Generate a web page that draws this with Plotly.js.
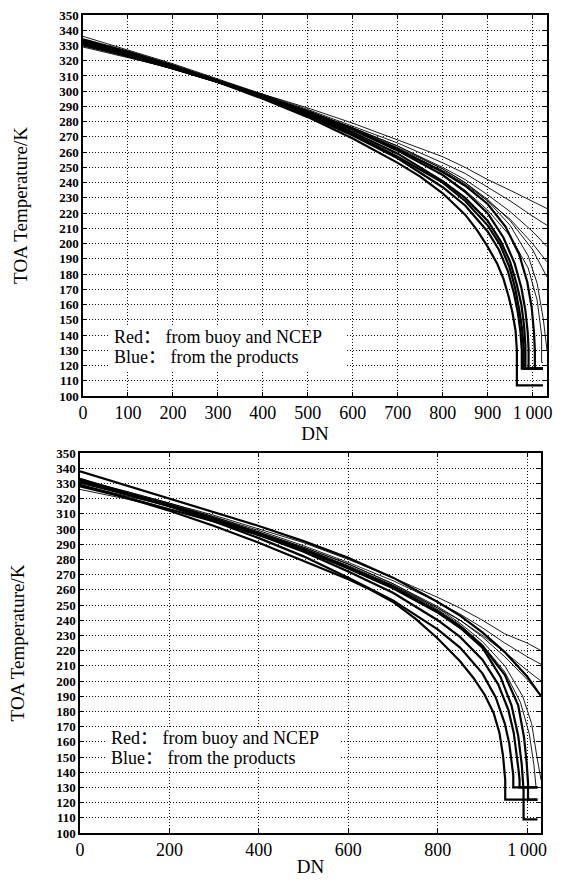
<!DOCTYPE html>
<html>
<head>
<meta charset="utf-8">
<script src="https://cdn.plot.ly/plotly-3.0.1.min.js"></script>
<style>html,body{margin:0;padding:0;background:#fff;}#chart{width:563px;height:881px;}</style>
</head>
<body>
<div id="chart"></div>
<script>
// ---------- data ----------
const yTickVals = [100,110,120,130,140,150,160,170,180,190,200,210,220,230,240,250,260,270,280,290,300,310,320,330,340,350];
const topXTickVals = [0,100,200,300,400,500,600,700,800,900,1000];
const topXTickText = ['0','100','200','300','400','500','600','700','800','900','1\u2009000'];
const botXTickVals = [0,200,400,600,800,1000];
const botXTickText = ['0','200','400','600','800','1\u2009000'];

// upper panel, heavy curves
const topThickDN = [
  [0,100,200,300,400,500,600,700,750,800,850,876,900,921,935,947,955,962,965,965,1023],
  [0,100,200,300,400,500,600,700,800,850,900,925,945,958,967,973,976,976,1023],
  [0,100,200,300,400,500,600,700,800,850,900,930,950,965,975,981,984,984,1023],
  [0,100,200,300,400,500,600,700,800,850,900,935,960,975,984,989,991,991,1023],
  [0,100,200,300,400,500,600,700,800,850,900,940,970,988,998,1003,1005,1005,1023],
  [0,100,200,300,400,500,600,700,800,850,900,928,948,961,970,977,980,980,1023]
];
const topThickT = [
  [331,323,315,306,295,283,269,253,244,233,219,209,198,187,177,165,155,143,130,107,107],
  [333,325,316,306,296,284,271,256,237,225,208,196,182,168,155,142,130,118,118],
  [332,324,316,307,297,286,273,259,241,230,215,201,188,173,160,146,133,118,118],
  [330,323,315,306,297,287,275,261,245,234,220,204,187,171,156,142,131,118,118],
  [334,326,317,307,297,286,275,262,247,238,226,211,193,175,158,142,130,118,118],
  [331,324,315,306,296,285,272,257,240,228,212,199,185,171,157,143,131,118,118]
];
// upper panel, light curves
const topThinDN = [
  [0,100,200,300,400,500,600,700,800,850,900,950,1000,1032],
  [0,100,200,300,400,500,600,700,800,850,900,950,1000,1032],
  [0,100,200,300,400,500,600,700,800,850,900,950,1000,1032],
  [0,100,200,300,400,500,600,700,800,850,900,950,1000,1032],
  [0,100,200,300,400,500,600,700,800,850,900,950,1000,1032],
  [0,100,200,300,400,500,600,700,800,850,900,950,990,1010,1020,1020,1023],
  [0,100,200,300,400,500,600,700,800,850,900,950,990,1010,1024,1032]
];
const topThinT = [
  [329,322,315,307,298,289,279,268,257,250,242,235,228,223],
  [336,327,318,308,298,288,277,266,253,246,237,228,218,212],
  [332,324,316,307,297,287,276,264,250,242,232,221,208,198],
  [333,325,317,307,297,286,275,262,248,239,228,216,200,188],
  [330,323,315,306,297,287,276,263,249,240,229,215,196,178],
  [331,324,316,307,297,286,274,261,245,235,222,205,184,163,140,122,122],
  [332,325,316,307,297,287,276,264,249,240,228,212,192,174,150,130]
];

// lower panel, heavy curves
const botThickDN = [
  [0,100,200,300,400,500,600,650,700,750,800,850,880,905,925,938,946,951,951,1023],
  [0,100,200,300,400,500,600,700,800,850,900,930,950,960,966,969,969,1023],
  [0,100,200,300,400,500,600,700,800,850,900,935,958,970,977,981,983,983,1023],
  [0,100,200,300,400,500,600,700,800,850,900,940,965,980,988,992,992,1023],
  [0,100,200,300,400,500,600,700,800,850,900,950,1000,1031],
  [0,100,200,300,400,500,600,700,800,850,900,950,980,993,999,1002,1002,1023]
];
const botThickT = [
  [329,321,312,302,291,279,267,260,252,241,228,213,202,191,179,166,151,135,122,122],
  [333,324,315,305,294,282,268,253,234,222,205,189,172,159,147,138,130,130],
  [331,323,315,306,296,285,272,258,240,229,214,198,181,166,152,141,135,130,130],
  [328,321,313,305,296,286,274,261,245,235,222,203,184,164,145,128,109,109],
  [338,329,320,311,302,292,281,268,252,243,232,219,203,190],
  [332,324,316,307,297,287,275,262,246,236,223,204,184,163,146,133,122,122]
];
// lower panel, light curves
const botThinDN = [
  [0,100,200,300,400,500,600,700,800,850,900,950,1000,1031],
  [0,100,200,300,400,500,600,700,800,850,900,950,1000,1031],
  [0,100,200,300,400,500,600,700,800,850,900,950,1000,1031],
  [0,100,200,300,400,500,600,700,800,850,900,950,1000,1031],
  [0,100,200,300,400,500,600,700,800,850,900,950,990,1010,1022,1031],
  [0,100,200,300,400,500,600,700,800,850,900,950,985,1005,1015,1020,1020,1023]
];
const botThinT = [
  [332,325,317,309,300,291,280,268,255,248,240,231,225,220],
  [330,323,316,308,299,289,278,266,252,244,235,225,216,211],
  [326,320,313,305,296,286,275,263,248,240,230,219,207,200],
  [331,324,316,307,298,288,277,264,249,240,229,216,201,190],
  [333,325,317,308,298,288,277,264,248,238,226,210,190,172,150,135],
  [329,322,315,306,297,287,276,263,247,237,224,206,186,165,145,130,130,130]
];

const legendLine1 = 'Red\uFF1A\u00a0from buoy and NCEP';
const legendLine2 = 'Blue\uFF1A\u00a0from the products';

// ---------- layout geometry ----------
const W = 563, H = 881;
const TOP = {l:83, r:547, t:15, b:396};
const BOT = {l:80, r:541, t:453, b:833};
const serif = 'Liberation Serif, Noto Sans CJK SC, serif';

function traces(dnList, tList, width, xa, ya) {
  return dnList.map((dn, i) => ({
    type: 'scatter', mode: 'lines', x: dn, y: tList[i],
    xaxis: xa, yaxis: ya, hoverinfo: 'skip', showlegend: false,
    line: {color: '#000', width: width, shape: 'linear'}
  }));
}

const data = [].concat(
  traces(topThinDN, topThinT, 0.9, 'x', 'y'),
  traces(topThickDN, topThickT, 2.2, 'x', 'y'),
  traces(botThinDN, botThinT, 0.9, 'x2', 'y2'),
  traces(botThickDN, botThickT, 2.2, 'x2', 'y2')
);

function xAxis(box, range, vals, text, anchor) {
  return {
    domain: [box.l / W, box.r / W], range: range, anchor: anchor,
    tickmode: 'array', tickvals: vals, ticktext: text,
    ticks: 'inside', ticklen: 4, tickwidth: 1, tickcolor: '#000',
    showline: true, linecolor: '#000', linewidth: 1.6, mirror: 'ticks',
    showgrid: true, gridcolor: '#111', gridwidth: 1, griddash: '1px,2px',
    zeroline: false, fixedrange: true,
    tickfont: {family: serif, size: 18, color: '#000'},
    title: {text: 'DN', font: {family: serif, size: 19, color: '#000'}, standoff: 0}
  };
}
function yAxis(box, anchor) {
  return {
    domain: [1 - box.b / H, 1 - box.t / H], range: [100, 350], anchor: anchor,
    tickmode: 'array', tickvals: yTickVals,
    ticks: 'inside', ticklen: 4, tickwidth: 1, tickcolor: '#000',
    showline: true, linecolor: '#000', linewidth: 1.6, mirror: 'ticks',
    showgrid: true, gridcolor: '#111', gridwidth: 1, griddash: '1px,2px',
    zeroline: false, fixedrange: true,
    tickfont: {family: serif, size: 13, color: '#000', weight: 'bold'},
    title: {text: 'TOA Temperature/K', font: {family: serif, size: 19, color: '#000'}, standoff: 26}
  };
}

function legendNote(x, y, text) {
  return {xref: 'paper', yref: 'paper', x: x / W, y: 1 - y / H, xanchor: 'left', yanchor: 'middle',
    text: text, showarrow: false, align: 'left',
    font: {family: serif, size: 18, color: '#000'}};
}
function blank(x0, x1, y0, y1) {
  return {type: 'rect', xref: 'paper', yref: 'paper', layer: 'above',
    x0: x0 / W, x1: x1 / W, y0: 1 - y1 / H, y1: 1 - y0 / H,
    fillcolor: '#fff', line: {width: 0}};
}

const layout = {
  width: W, height: H,
  margin: {l: 0, r: 0, t: 0, b: 0},
  paper_bgcolor: '#fff', plot_bgcolor: '#fff',
  showlegend: false,
  xaxis: xAxis(TOP, [0, 1032], topXTickVals, topXTickText, 'y'),
  yaxis: yAxis(TOP, 'x'),
  xaxis2: xAxis(BOT, [0, 1031], botXTickVals, botXTickText, 'y2'),
  yaxis2: yAxis(BOT, 'x2'),
  shapes: [
    blank(108, 345, 325, 370),
    blank(105, 341, 727, 768)
  ],
  annotations: [
    legendNote(112, 337, legendLine1),
    legendNote(112, 357, legendLine2),
    legendNote(109, 738, legendLine1),
    legendNote(109, 758, legendLine2)
  ]
};

Plotly.newPlot('chart', data, layout, {staticPlot: true, displayModeBar: false});
</script>
</body>
</html>
